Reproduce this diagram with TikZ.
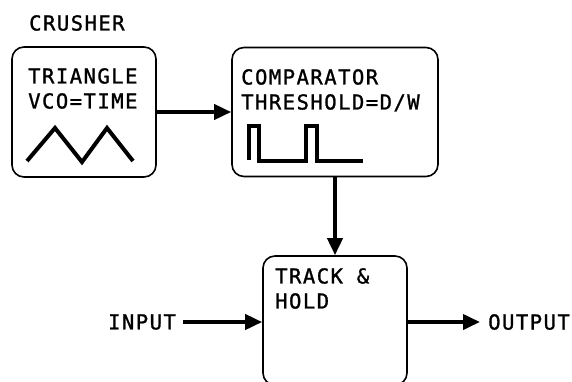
\documentclass[tikz,border=0pt]{standalone}
\usepackage{fontspec}
\setmonofont[LetterSpace=7, FakeBold=1.2]{DejaVu Sans Mono}
\usetikzlibrary{arrows.meta}

\tikzset{
	blk/.style={draw, line width=1.6pt, rounded corners=12pt, minimum width=#1},
	lbl/.style={font=\ttfamily\fontsize{20.6}{25}\selectfont, inner sep=0pt},
	txt/.style={lbl, anchor=north west, align=left},
	wire/.style={line width=3.8pt, -{Triangle[length=17pt,width=15pt]}},
	wave/.style={line width=4pt}
}

\begin{document}
\begin{tikzpicture}[x=1pt, y=-1pt]

	\useasboundingbox (0,0) rectangle (572,381);

	\node[txt] (title) at (29, 15) {CRUSHER};

	\node[blk=144pt, minimum height=130pt] (tri) at (84, 112) {};
	\node[blk=206pt, minimum height=129pt] (comp) at (335, 112) {};
	\node[blk=144pt, minimum height=129pt] (hold) at (335, 320.5) {};

	\node[txt] (tritxt) at (28, 68) {TRIANGLE\\VCO=TIME};
	\node[txt] (comptxt) at (241, 69) {COMPARATOR\\THRESHOLD=D/W};
	\node[txt] (holdtxt) at (275, 268) {TRACK \&\\HOLD};

	\node[lbl, inner sep=7pt] (in) at (142, 322) {INPUT};
	\node[lbl, anchor=west] (out) at (488, 322) {OUTPUT};

	\draw[wave, line join=miter] (27, 161) -- (55, 128) -- (82, 162) -- (107, 128) -- (133, 161);
	\draw[wave] (249, 160) -- (249, 126) -- (259, 126) -- (259, 161) -- (306, 161)
		-- (306, 126) -- (317, 126) -- (317, 161) -- (363, 161);

	\draw[wire] (tri) -- (comp);
	\draw[wire] (comp) -- (hold);
	\draw[wire] (in.east) -- (in.east -| hold.west);
	\draw[wire, shorten >=8pt] (hold.east |- out.west) -- (out.west);

\end{tikzpicture}
\end{document}
